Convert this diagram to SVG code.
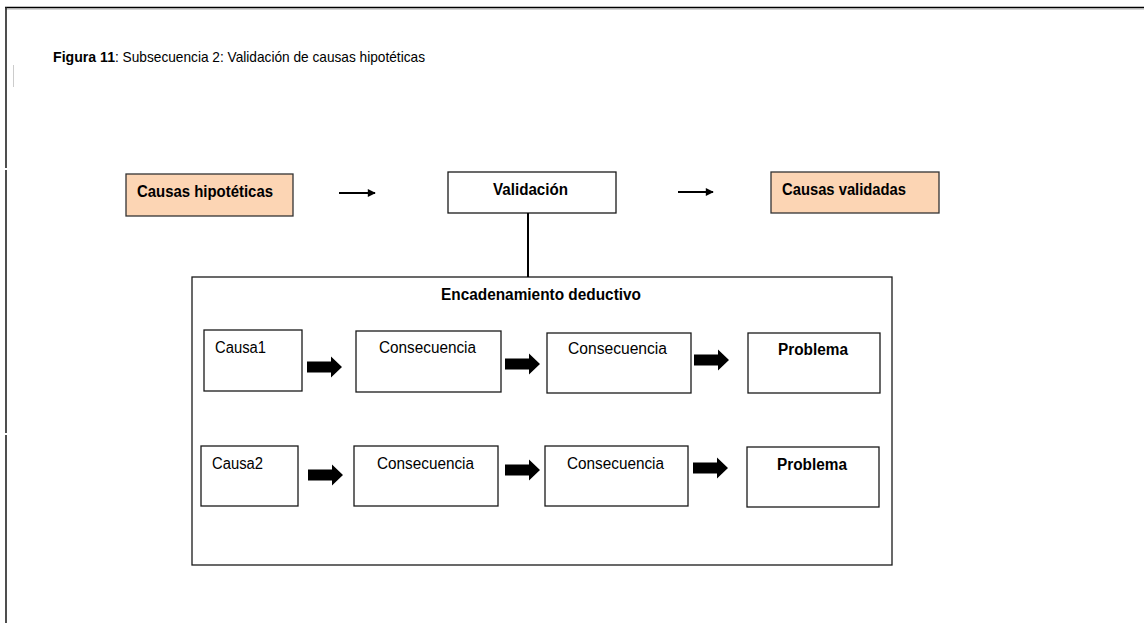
<svg xmlns="http://www.w3.org/2000/svg" width="1144" height="623" viewBox="0 0 1144 623">
  <style>
    .t { font-family: "Liberation Sans", Arial, sans-serif; font-size: 16px; fill: #000; }
    .b { font-weight: bold; }
    .box { fill: #fff; stroke: #1a1a1a; stroke-width: 1.3; }
    .peach { fill: #fcd5b4; stroke: #333; stroke-width: 1.3; }
    .thin { stroke: #000; stroke-width: 2; fill: none; }
  </style>
  <defs>
    <!-- thick block arrow, origin at the tail, centred vertically -->
    <path id="blk" d="M0,-5.5 H24 V-10.5 L35,0 L24,10.5 V5.5 H0 Z" fill="#000"/>
    <marker id="ah" viewBox="0 0 10 10" refX="9" refY="5" markerWidth="4.5" markerHeight="4" orient="auto" markerUnits="strokeWidth">
      <path d="M0,0 L10,5 L0,10 Z" fill="#000"/>
    </marker>
  </defs>

  <rect width="1144" height="623" fill="#fff"/>

  <!-- page frame -->
  <g id="frame">
    <line x1="5" y1="7.5" x2="1144" y2="7.5" stroke="#000" stroke-width="1.6"/>
    <line x1="5" y1="9" x2="1144" y2="9" stroke="#999" stroke-width="0.8"/>
    <line x1="6" y1="7" x2="6" y2="168" stroke="#222" stroke-width="1.6"/>
    <line x1="6" y1="170" x2="6" y2="433" stroke="#222" stroke-width="1.6"/>
    <line x1="6" y1="435" x2="6" y2="623" stroke="#222" stroke-width="1.6"/>
    <line x1="13.5" y1="65" x2="13.5" y2="87" stroke="#ccc" stroke-width="1"/>
  </g>

  <!-- caption -->
  <g id="caption">
    <text class="t b" x="53" y="62" style="font-size:15px" textLength="62" lengthAdjust="spacingAndGlyphs">Figura 11</text>
    <text class="t" x="115" y="62" style="font-size:15px" textLength="310" lengthAdjust="spacingAndGlyphs">: Subsecuencia 2: Validación de causas hipotéticas</text>
  </g>

  <!-- top row nodes -->
  <g id="causas-hipoteticas">
    <rect class="peach" x="126" y="174" width="167" height="42"/>
    <text class="t b" x="137" y="197" textLength="136" lengthAdjust="spacingAndGlyphs">Causas hipotéticas</text>
  </g>
  <g id="validacion">
    <rect class="box" x="448" y="172" width="168" height="41"/>
    <text class="t b" x="493" y="195" textLength="75" lengthAdjust="spacingAndGlyphs">Validación</text>
  </g>
  <g id="causas-validadas">
    <rect class="peach" x="771" y="172" width="168" height="41"/>
    <text class="t b" x="782" y="195" textLength="124" lengthAdjust="spacingAndGlyphs">Causas validadas</text>
  </g>

  <!-- deductive chain container -->
  <g id="encadenamiento">
    <rect class="box" x="192" y="277" width="700" height="288"/>
    <text class="t b" x="441" y="300" textLength="200" lengthAdjust="spacingAndGlyphs">Encadenamiento deductivo</text>
  </g>

  <!-- row 1 -->
  <g id="causa1">
    <rect class="box" x="204" y="330" width="98" height="61"/>
    <text class="t" x="215" y="353" textLength="51" lengthAdjust="spacingAndGlyphs">Causa1</text>
  </g>
  <g id="consecuencia-1a">
    <rect class="box" x="356" y="331" width="145" height="61"/>
    <text class="t" x="379" y="353" textLength="97" lengthAdjust="spacingAndGlyphs">Consecuencia</text>
  </g>
  <g id="consecuencia-1b">
    <rect class="box" x="547" y="333" width="144" height="60"/>
    <text class="t" x="568" y="354" textLength="99" lengthAdjust="spacingAndGlyphs">Consecuencia</text>
  </g>
  <g id="problema-1">
    <rect class="box" x="748" y="333" width="132" height="60"/>
    <text class="t b" x="778" y="355" textLength="70" lengthAdjust="spacingAndGlyphs">Problema</text>
  </g>

  <!-- row 2 -->
  <g id="causa2">
    <rect class="box" x="201" y="446" width="97" height="60"/>
    <text class="t" x="212" y="469" textLength="51" lengthAdjust="spacingAndGlyphs">Causa2</text>
  </g>
  <g id="consecuencia-2a">
    <rect class="box" x="354" y="446" width="144" height="60"/>
    <text class="t" x="377" y="469" textLength="97" lengthAdjust="spacingAndGlyphs">Consecuencia</text>
  </g>
  <g id="consecuencia-2b">
    <rect class="box" x="545" y="446" width="143" height="60"/>
    <text class="t" x="567" y="469" textLength="97" lengthAdjust="spacingAndGlyphs">Consecuencia</text>
  </g>
  <g id="problema-2">
    <rect class="box" x="747" y="447" width="132" height="60"/>
    <text class="t b" x="777" y="470" textLength="70" lengthAdjust="spacingAndGlyphs">Problema</text>
  </g>

  <!-- connectors -->
  <g id="connectors">
    <line class="thin" x1="339" y1="193" x2="375" y2="193" marker-end="url(#ah)"/>
    <line class="thin" x1="678" y1="192" x2="713" y2="192" marker-end="url(#ah)"/>
    <line x1="528" y1="213" x2="528" y2="277" stroke="#000" stroke-width="2"/>

    <use href="#blk" x="307" y="367"/>
    <use href="#blk" x="505" y="364"/>
    <use href="#blk" x="694" y="360"/>

    <use href="#blk" x="308" y="475"/>
    <use href="#blk" x="505" y="470"/>
    <use href="#blk" x="693" y="468"/>
  </g>
</svg>
